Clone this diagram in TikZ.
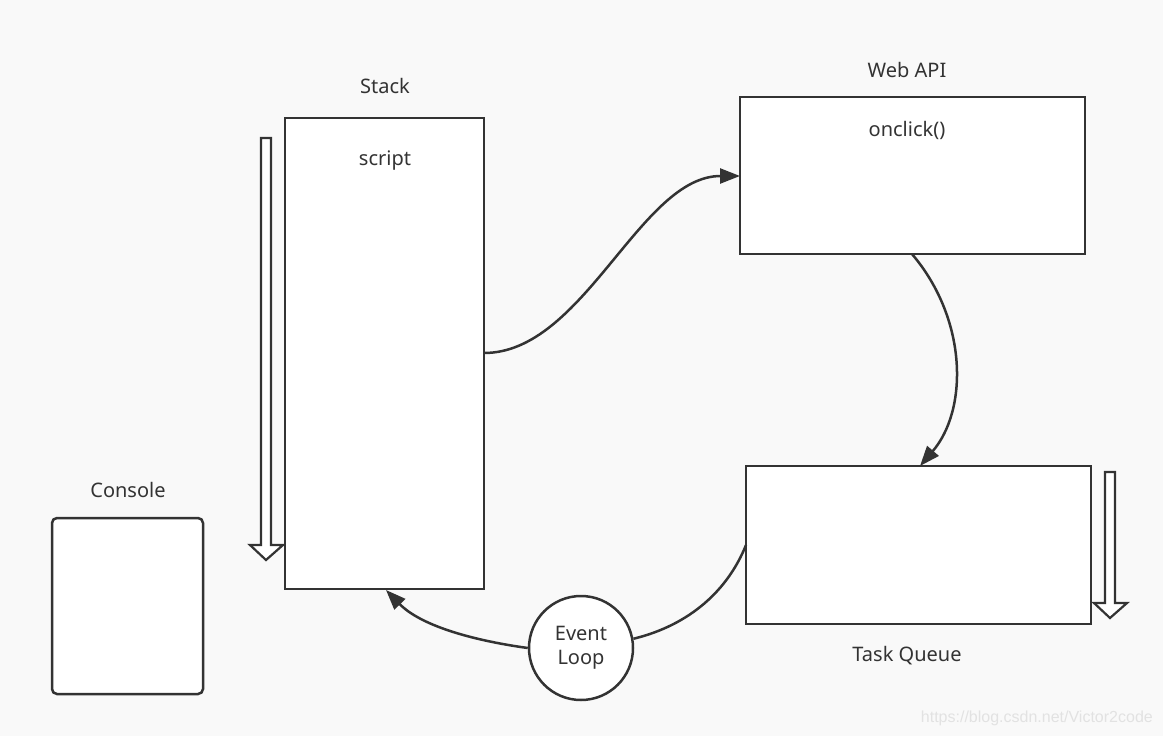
\documentclass[tikz,border=0pt]{standalone}
\usepackage{fontspec}
\setmainfont{Noto Sans}
\newfontfamily\wmfont{Liberation Sans}
\usetikzlibrary{arrows.meta}
\definecolor{ink}{HTML}{333333}
\definecolor{bg}{HTML}{F9F9F9}
\definecolor{wm}{HTML}{E2E2E2}
\begin{document}
\begin{tikzpicture}[x=1pt,y=-1pt,
  box/.style={draw=ink,line width=2.5pt,fill=white,anchor=north west,inner sep=0pt,outer sep=0pt},
  lbl/.style={text=ink,font=\fontsize{20}{23}\selectfont,inner sep=0pt},
  flow/.style={draw=ink,line width=2.5pt,-{Triangle[length=20pt,width=15pt]}},
  link/.style={draw=ink,line width=2.5pt},
  hollow/.style={draw=ink,line width=2.2pt,fill=white,line join=miter}]
\useasboundingbox[fill=bg] (0,0) rectangle (1163,736);

% boxes
\node[box,minimum width=199pt,minimum height=471pt] (stack) at (285,118) {};
\node[box,minimum width=345pt,minimum height=157pt] (webapi) at (740,97) {};
\node[box,minimum width=345pt,minimum height=158pt] (queue) at (746,466) {};
\node[box,rounded corners=5pt,minimum width=151pt,minimum height=176pt] (console) at (52,518) {};
\node[draw=ink,line width=2.5pt,fill=white,circle,minimum size=104pt,inner sep=0pt,align=center,text=ink,font=\fontsize{20}{24}\selectfont] (loop) at (581,648) {Event\\Loop};

% labels
\node[lbl] (stacklbl) at (385,86) {Stack};
\node[lbl] (script) at (385,161) {script};
\node[lbl] (webapilbl) at (907,70) {Web API};
\node[lbl] (onclick) at (907,130) {onclick()};
\node[lbl] (queuelbl) at (907,656) {Task Queue};
\node[lbl] (consolelbl) at (128,490) {Console};

% hollow arrows
\draw[hollow] (261,138) -- (271,138) -- (271,545) -- (283,545) -- (266,560) -- (250,545) -- (261,545) -- cycle;
\draw[hollow] (1105,472) -- (1115,472) -- (1115,603) -- (1127,603) -- (1110,618) -- (1094,603) -- (1105,603) -- cycle;

% connectors
\coordinate (s1) at (484,353);
\coordinate (w1) at (740,176);
\coordinate (w2) at (912,254);
\coordinate (q1) at (920,466);
\coordinate (q2) at (746,545);
\coordinate (s2) at (386,590);
\draw[flow] (s1) .. controls (584,353) and (640,176) .. (w1);
\draw[flow] (w2) .. controls (968,320) and (968,410) .. (q1);
\draw[link] (q2) .. controls (728,590) and (690,625) .. (loop.10);
\draw[flow] (loop.west) .. controls (470,640) and (420,625) .. (s2);

% watermark
\node[text=wm,font=\wmfont\fontsize{16}{19}\selectfont,anchor=east,inner sep=0pt] (wmark) at (1153,718) {https://blog.csdn.net/Victor2code};
\end{tikzpicture}
\end{document}
